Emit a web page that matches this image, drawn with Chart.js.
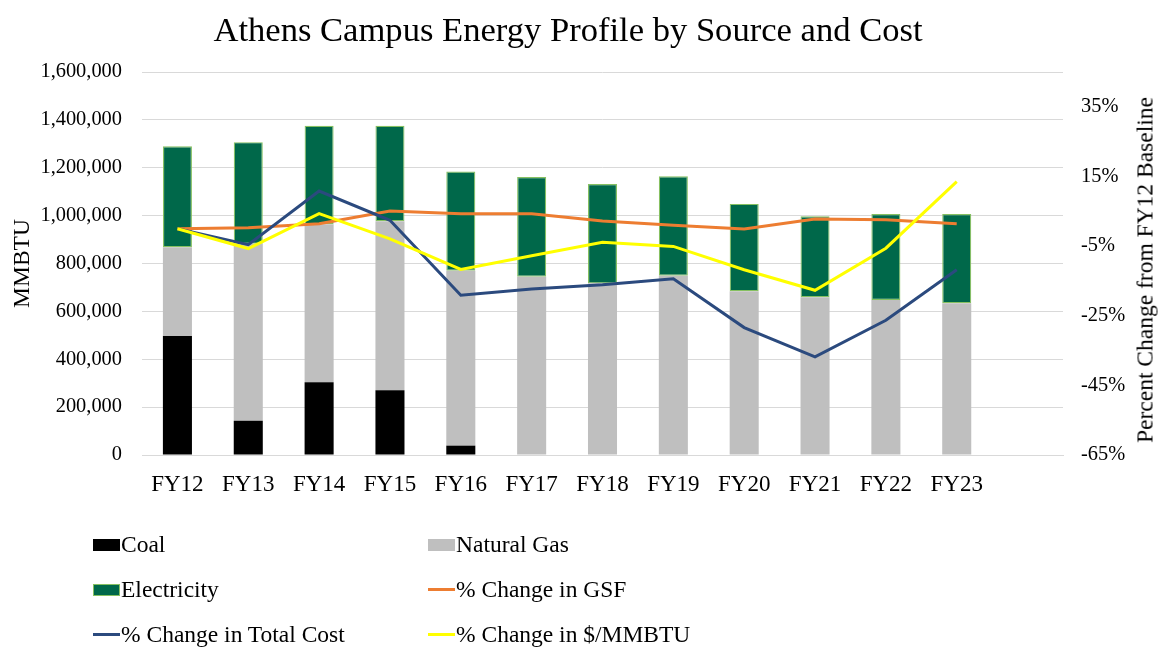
<!DOCTYPE html>
<html>
<head>
<meta charset="utf-8">
<title>Athens Campus Energy Profile</title>
<script src="https://cdn.jsdelivr.net/npm/chart.js@4.4.1/dist/chart.umd.min.js"></script>
<style>
    body { margin: 0; background: #fff; }
    #wrap {
        position: relative;
        width: 1169px;
        height: 663px;
        font-family: "Liberation Serif", "Times New Roman", serif;
        color: #000;
    }
    #energyChart { position: absolute; left: 0; top: 0; }
    #chartTitle {
        position: absolute;
        left: 0;
        top: 9px;
        width: 1136px;
        text-align: center;
        font-size: 34.6px;
        line-height: 40px;
    }
    #rightTitle {
        position: absolute;
        left: 1145px;
        top: 270px;
        transform: translate(-50%, -50%) rotate(-90deg);
        white-space: nowrap;
        font-size: 23.5px;
    }
    #legend {
        position: absolute;
        left: 93px;
        top: 522px;
        display: grid;
        grid-template-columns: 335px 335px;
        grid-auto-rows: 45px;
        font-size: 23.5px;
    }
    .item { display: flex; align-items: center; white-space: nowrap; }
    .box { width: 27px; height: 12px; box-sizing: border-box; margin-right: 1px; }
    .ln { width: 27px; height: 3px; margin-right: 1px; }
</style>
</head>
<body>
<div id="wrap">
    <canvas id="energyChart" width="1169" height="663"></canvas>
    <div id="chartTitle">Athens Campus Energy Profile by Source and Cost</div>
    <div id="rightTitle">Percent Change from FY12 Baseline</div>
    <div id="legend"></div>
</div>
<script>
// fiscal years (last slot is left empty, as in the original)
const years = ["FY12", "FY13", "FY14", "FY15", "FY16", "FY17", "FY18", "FY19", "FY20", "FY21", "FY22", "FY23", ""];

// MMBTU by source
const coal = [497000, 143000, 304000, 271000, 39000, 0, 0, 0, 0, 0, 0, 0];
const naturalGas = [371000, 739000, 660000, 706000, 731000, 745000, 717000, 749000, 684000, 659000, 648000, 634000];
const electricity = [422000, 425000, 411000, 398000, 414000, 416000, 415000, 415000, 365000, 338000, 359000, 373000];

// percent change from FY12
const gsfChange = [0, 0.3, 1.4, 5.1, 4.3, 4.3, 2.2, 1.0, -0.1, 2.8, 2.6, 1.4];
const totalCostChange = [0, -4.6, 10.8, 2.4, -19.1, -17.3, -16.1, -14.4, -28.4, -36.8, -26.3, -11.8];
const perMmbtuChange = [0, -5.7, 4.3, -2.9, -11.7, -7.8, -3.9, -5.1, -11.8, -17.7, -5.6, 13.5];

// right axis ticks
const pctTicks = [-65, -45, -25, -5, 15, 35];

const serif = "'Liberation Serif', 'Times New Roman', serif";
const gridColor = "#d9d9d9";

const ctx = document.getElementById("energyChart").getContext("2d");
const chart = new Chart(ctx, {
    data: {
        labels: years,
        datasets: [
            { type: "bar", label: "Coal", data: coal, backgroundColor: "#000000", borderWidth: 0, order: 4, yAxisID: "y" },
            { type: "bar", label: "Natural Gas", data: naturalGas, backgroundColor: "#bfbfbf", borderWidth: 0, order: 4, yAxisID: "y" },
            { type: "bar", label: "Electricity", data: electricity, backgroundColor: "#00684a", borderColor: "#86c061", borderWidth: 1.2, borderSkipped: false, order: 4, yAxisID: "y" },
            { type: "line", label: "% Change in GSF", data: gsfChange, borderColor: "#ed7d31", backgroundColor: "#ed7d31", borderWidth: 3, pointRadius: 0, tension: 0, order: 3, yAxisID: "y1" },
            { type: "line", label: "% Change in Total Cost", data: totalCostChange, borderColor: "#2b4a7e", backgroundColor: "#2b4a7e", borderWidth: 3, pointRadius: 0, tension: 0, order: 2, yAxisID: "y1" },
            { type: "line", label: "% Change in $/MMBTU", data: perMmbtuChange, borderColor: "#ffff00", backgroundColor: "#ffff00", borderWidth: 3, pointRadius: 0, tension: 0, order: 1, yAxisID: "y1" }
        ]
    },
    options: {
        responsive: false,
        animation: false,
        layout: { padding: { left: 0, right: 0, top: 72, bottom: 158 } },
        datasets: { bar: { categoryPercentage: 1, barPercentage: 0.41 } },
        plugins: {
            legend: { display: false },
            title: { display: false },
            tooltip: { enabled: false }
        },
        scales: {
            x: {
                stacked: true,
                grid: { display: false },
                border: { display: true, color: gridColor, width: 1 },
                ticks: { color: "#000", font: { family: serif, size: 23 }, padding: 8, maxRotation: 0, autoSkip: false },
                afterFit: scale => { scale.height = 50; }
            },
            y: {
                position: "left",
                stacked: true,
                min: 0,
                max: 1600000,
                grid: { color: gridColor, lineWidth: 1, drawTicks: false },
                border: { display: false },
                ticks: {
                    stepSize: 200000,
                    padding: 20,
                    color: "#000",
                    font: { family: serif, size: 20.4 },
                    callback: v => v.toLocaleString("en-US")
                },
                title: { display: true, text: "MMBTU", color: "#000", font: { family: serif, size: 23.5 }, padding: { top: 9, bottom: 0 } },
                afterFit: scale => { scale.width = 142; }
            },
            y1: {
                position: "right",
                min: -65,
                max: 45,
                grid: { display: false, drawTicks: false },
                border: { display: false },
                ticks: {
                    padding: 18,
                    color: "#000",
                    font: { family: serif, size: 20.4 },
                    callback: v => v + "%"
                },
                afterBuildTicks: scale => { scale.ticks = pctTicks.map(v => ({ value: v })); },
                afterFit: scale => { scale.width = 106; }
            }
        }
    }
});

// HTML legend in two columns, built from the chart's datasets
const legendEl = document.getElementById("legend");
legendEl.innerHTML = chart.data.datasets.map(ds => {
    const marker = ds.type === "bar"
        ? `<span class="box" style="background:${ds.backgroundColor};${ds.borderWidth ? `border:1px solid ${ds.borderColor};` : ""}"></span>`
        : `<span class="ln" style="background:${ds.borderColor}"></span>`;
    return `<div class="item">${marker}<span>${ds.label}</span></div>`;
}).join("");
</script>
</body>
</html>
